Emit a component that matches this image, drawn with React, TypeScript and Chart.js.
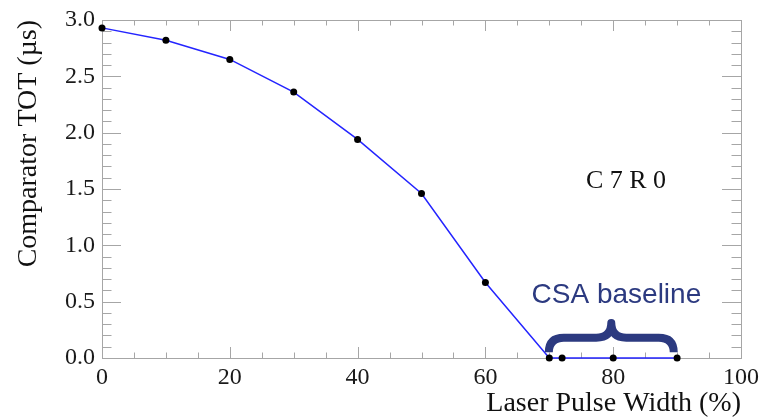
import React, { useEffect, useRef } from "react";
import { Chart, registerables } from "chart.js";

Chart.register(...registerables);

// Data
const pulseWidth = [0, 10, 20, 30, 40, 50, 60, 70, 72, 80, 90];
const comparatorTOT = [2.93, 2.82, 2.65, 2.36, 1.94, 1.46, 0.67, 0.0, 0.0, 0.0, 0.0];

const xTitle = "Laser Pulse Width (%)";
const yTitle = "Comparator TOT (µs)";
const channelLabel = "C 7 R 0";
const baselineLabel = "CSA baseline";

// Annotation anchors (data units)
const channelLabelAt = [82, 1.57];
const baselineLabelAt = [80.5, 0.56];
const braceX = [69.3, 90.1];
const braceY = [0.05, 0.18, 0.31]; // ends, arms, peak

const SERIF = "'Liberation Serif', 'Times New Roman', serif";
const SANS = "'Liberation Sans', Arial, sans-serif";
const FRAME = "#a6a6a6";
const BRACE = "#2c3a80";

const framePlugin = {
  id: "frameTicks",
  beforeDatasetsDraw(chart: any) {
    const { ctx, chartArea: a, scales } = chart;
    const x = scales.x;
    const y = scales.y;
    ctx.save();
    ctx.strokeStyle = FRAME;
    ctx.lineWidth = 1;
    ctx.strokeRect(a.left + 0.5, a.top + 0.5, a.right - a.left, a.bottom - a.top);
    ctx.beginPath();
    for (let v = 0; v <= 100; v += 5) {
      const px = Math.round(x.getPixelForValue(v)) + 0.5;
      const len = v % 20 === 0 ? 11 : 5.5;
      ctx.moveTo(px, a.bottom);
      ctx.lineTo(px, a.bottom - len);
      ctx.moveTo(px, a.top);
      ctx.lineTo(px, a.top + len);
    }
    for (let i = 0; i <= 30; i++) {
      const v = i / 10;
      const py = Math.round(y.getPixelForValue(v)) + 0.5;
      const len = i % 5 === 0 ? 19 : 9.5;
      ctx.moveTo(a.left, py);
      ctx.lineTo(a.left + len, py);
      ctx.moveTo(a.right, py);
      ctx.lineTo(a.right - len, py);
    }
    ctx.stroke();
    ctx.restore();
  },
  afterDatasetsDraw(chart: any) {
    const { ctx, scales } = chart;
    const x = scales.x;
    const y = scales.y;
    ctx.save();
    ctx.textAlign = "center";
    ctx.textBaseline = "middle";
    ctx.fillStyle = "#111";
    ctx.font = `26px ${SERIF}`;
    ctx.fillText(channelLabel, x.getPixelForValue(channelLabelAt[0]), y.getPixelForValue(channelLabelAt[1]));
    ctx.fillStyle = BRACE;
    ctx.font = `28px ${SANS}`;
    ctx.fillText(baselineLabel, x.getPixelForValue(baselineLabelAt[0]), y.getPixelForValue(baselineLabelAt[1]));

    const x0 = x.getPixelForValue(braceX[0]);
    const x1 = x.getPixelForValue(braceX[1]);
    const xc = (x0 + x1) / 2;
    const yEnd = y.getPixelForValue(braceY[0]);
    const yArm = y.getPixelForValue(braceY[1]);
    const yPeak = y.getPixelForValue(braceY[2]);
    const r = 15;
    const h = 4;
    ctx.strokeStyle = BRACE;
    ctx.lineWidth = 8;
    ctx.lineCap = "butt";
    ctx.lineJoin = "round";
    ctx.beginPath();
    ctx.moveTo(x0 + h, yEnd);
    ctx.quadraticCurveTo(x0 + h, yArm, x0 + h + r, yArm);
    ctx.lineTo(xc - r, yArm);
    ctx.quadraticCurveTo(xc, yArm, xc, yPeak);
    ctx.quadraticCurveTo(xc, yArm, xc + r, yArm);
    ctx.lineTo(x1 - h - r, yArm);
    ctx.quadraticCurveTo(x1 - h, yArm, x1 - h, yEnd);
    ctx.stroke();
    ctx.restore();
  },
};

export default function App() {
  const ref = useRef<HTMLCanvasElement | null>(null);
  useEffect(() => {
    if (!ref.current) return;
    const chart = new Chart(ref.current, {
      type: "line",
      data: {
        datasets: [
          {
            data: pulseWidth.map((v, i) => ({ x: v, y: comparatorTOT[i] })),
            borderColor: "#2424ff",
            borderWidth: 1.5,
            backgroundColor: "#000",
            pointBackgroundColor: "#000",
            pointBorderColor: "#000",
            pointRadius: 3.5,
            pointBorderWidth: 0,
            tension: 0,
            fill: false,
          },
        ],
      },
      options: {
        animation: false,
        responsive: false,
        maintainAspectRatio: false,
        layout: { padding: { top: 20, right: 18, left: 0, bottom: 0 } },
        plugins: { legend: { display: false }, tooltip: { enabled: false } },
        clip: false,
        scales: {
          x: {
            type: "linear",
            min: 0,
            max: 100,
            grid: { display: false, drawTicks: false },
            border: { display: false },
            ticks: {
              stepSize: 20,
              padding: 5,
              color: "#1a1a1a",
              font: { family: SERIF, size: 24 },
              maxRotation: 0,
            },
            title: {
              display: true,
              text: xTitle,
              align: "end",
              color: "#111",
              font: { family: SERIF, size: 28, lineHeight: 1 },
              padding: { top: 0, bottom: 0 },
            },
            afterFit(scale: any) {
              scale.height = 60;
              scale.paddingLeft = 0;
              scale.paddingRight = 0;
            },
          },
          y: {
            type: "linear",
            min: 0,
            max: 3,
            grid: { display: false, drawTicks: false },
            border: { display: false },
            ticks: {
              stepSize: 0.5,
              padding: 7,
              color: "#1a1a1a",
              font: { family: SERIF, size: 24 },
              callback: (v: any) => Number(v).toFixed(1),
            },
            title: {
              display: true,
              text: yTitle,
              align: "end",
              color: "#111",
              font: { family: SERIF, size: 28, lineHeight: 1 },
              padding: { top: 15, bottom: 0 },
            },
            afterFit(scale: any) {
              scale.width = 102;
              scale.paddingTop = 0;
              scale.paddingBottom = 0;
            },
          },
        },
      },
      plugins: [framePlugin],
    } as any);
    return () => chart.destroy();
  }, []);
  return (
    <div style={{ position: "fixed", left: 0, top: 0, width: 759, height: 418, background: "#fff" }}>
      <canvas ref={ref} width={759} height={418} style={{ display: "block", width: 759, height: 418 }} />
    </div>
  );
}
